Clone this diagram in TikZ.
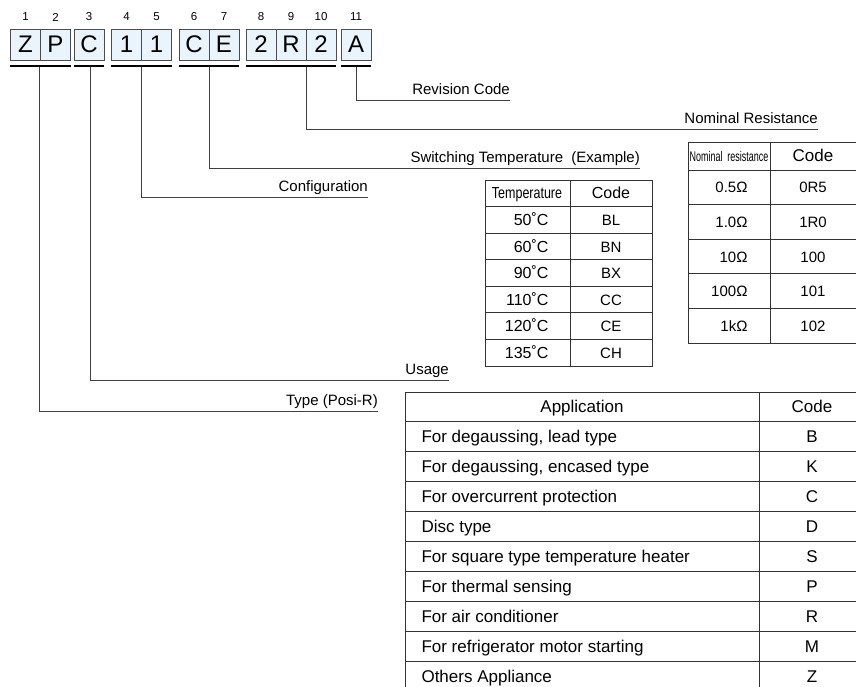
\documentclass[tikz,border=0pt]{standalone}
\usepackage{fontspec}
\setmainfont{Liberation Sans}
\usepackage{tikz}
\definecolor{cellblue}{RGB}{234,244,252}

\begin{document}
\begin{tikzpicture}[x=1pt, y=-1pt,
  every node/.style={font=\fontsize{15}{17}\selectfont},
  cell/.style={draw=black!70, fill=cellblue, minimum width=30pt, minimum height=31pt,
    inner sep=0pt, font=\fontsize{24}{26}\selectfont},
  uline/.style={line width=2.2pt},
  conn/.style={draw=black!75, line width=0.9pt},
  lbl/.style={anchor=south east, inner xsep=0pt, inner ysep=2pt, text depth=3pt},
  row/.style={anchor=base, yshift=-5.6pt},
  big/.style={anchor=base, yshift=-6.2pt, font=\fontsize{17}{19}\selectfont},
  tab/.style={draw=black!80, line width=0.9pt}]
  \clip (0,0) rectangle (856,686);
  % code boxes and position numbers
  \foreach \i/\x/\t in {1/25.5/Z, 2/55.5/P, 3/89/C, 4/126.5/1, 5/156.5/1, 6/194/C,
                        7/224/E, 8/261/2, 9/291/R, 10/321/2, 11/356/A} {
    \node[cell] (c\i) at (\x,44.5) {\t};
    \node[font=\fontsize{11.5}{12}\selectfont] (n\i) at (\x,17) {\i};
  }
  \foreach \a/\b in {1/2, 3/3, 4/5, 6/7, 8/10, 11/11}
    \draw[uline] ([yshift=-6pt]c\a.south west) -- ([yshift=-6pt]c\b.south east);

  % field labels
  \node[lbl] (rev) at (510,100) {Revision Code};
  \node[lbl] (nom) at (818,129) {Nominal Resistance};
  \node[lbl] (swt) at (640,168) {Switching Temperature\ \ (Example)};
  \node[lbl] (cfg) at (368,197) {Configuration};
  \node[lbl] (use) at (449,380) {Usage};
  \node[lbl] (typ) at (378,411) {Type (Posi-R)};

  \draw[conn] ([yshift=-7pt]c11.south) |- (rev.south east);
  \draw[conn] ([yshift=-7pt]c9.south east) |- (nom.south east);
  \draw[conn] ([yshift=-7pt]c6.south east) |- (swt.south east);
  \draw[conn] ([yshift=-7pt]c4.south east) |- (cfg.south east);
  \draw[conn] ([xshift=1.5pt,yshift=-7pt]c3.south) |- (use.south east);
  \draw[conn] ([xshift=-1.5pt,yshift=-7pt]c1.south east) |- (typ.south east);

  % switching temperature table
  \draw[tab] (485,180) rectangle (652,366);
  \draw[tab] (570,180) -- (570,366);
  \foreach \r in {1,...,6} \draw[tab] (485,180+26.57*\r) -- (652,180+26.57*\r);
  \node[row] (th1) at (527,193.3) {\fontsize{16}{17}\selectfont\scalebox{0.78}[1]{Temperature}};
  \node[row, font=\fontsize{16}{18}\selectfont] (th2) at (611,193.3) {Code};
  \foreach \t/\c [count=\r] in {50/BL, 60/BN, 90/BX, 110/CC, 120/CE, 135/CH} {
    \node[row, anchor=base east, font=\fontsize{16}{18}\selectfont] (tv\r) at (552,193.3+26.57*\r) {\t˚C};
    \node[row] (tc\r) at (611,193.3+26.57*\r) {\c};
  }

  % nominal resistance table
  \draw[tab] (688,142) rectangle (862,343);
  \draw[tab] (770,142) -- (770,343);
  \draw[tab] (688,170) -- (862,170);
  \foreach \r in {1,...,4} \draw[tab] (688,170+34.6*\r) -- (862,170+34.6*\r);
  \node[row] (rh1) at (729,156) {\fontsize{14}{15}\selectfont\scalebox{0.64}[1]{Nominal\ \ resistance}};
  \node[row, font=\fontsize{17}{19}\selectfont] (rh2) at (813,156) {Code};
  \foreach \v/\c [count=\r] in {0.5/0R5, 1.0/1R0, 10/100, 100/101, 1k/102} {
    \node[row, anchor=base east] (rv\r) at (751,152.7+34.6*\r) {\v Ω};
    \node[row] (rc\r) at (813,152.7+34.6*\r) {\c};
  }

  % application table
  \draw[tab] (866,392) -- (405,392) -- (405,700);
  \draw[tab] (759,392) -- (759,700);
  \foreach \r in {0,...,8} \draw[tab] (405,421+30*\r) -- (866,421+30*\r);
  \node[big] (ah1) at (582,406.5) {Application};
  \node[big] (ah2) at (812,406.5) {Code};
  \foreach \a/\c [count=\r] in {For degaussing{,} lead type/B,
      For degaussing{,} encased type/K, For overcurrent protection/C,
      Disc type/D, For square type temperature heater/S,
      For thermal sensing/P, For air conditioner/R,
      For refrigerator motor starting/M, Others Appliance/Z} {
    \node[big, anchor=base west] (av\r) at (418,406+30*\r) {\a};
    \node[big] (ac\r) at (812,406+30*\r) {\c};
  }
\end{tikzpicture}
\end{document}
